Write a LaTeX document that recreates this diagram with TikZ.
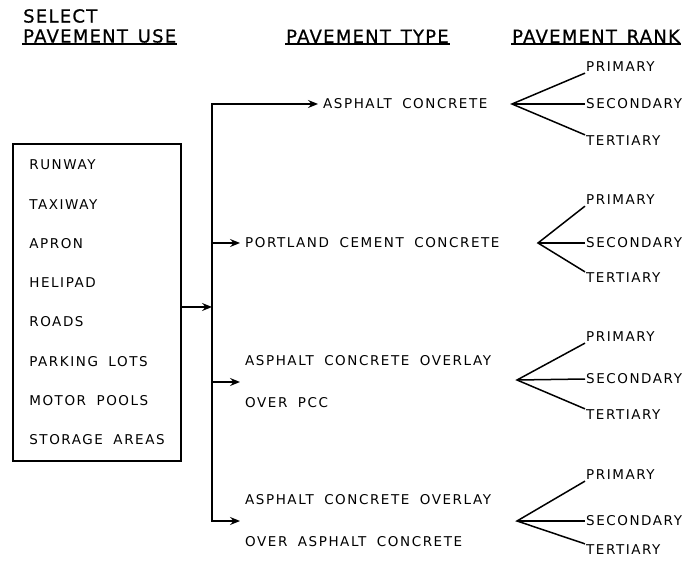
\documentclass[tikz,border=0pt]{standalone}
\usepackage{fontspec}
\setmainfont{DejaVu Sans}
\newfontfamily\headfont[LetterSpace=7, WordSpace=1.4, FakeBold=0.6]{DejaVu Sans}
\newfontfamily\itemfont[LetterSpace=11.5, WordSpace=1.8]{DejaVu Sans}
\usetikzlibrary{arrows.meta,positioning}

\begin{document}
\begin{tikzpicture}[x=1pt, y=-1pt,
  head/.style={anchor=south west, inner sep=1pt, align=left,
    font=\headfont\fontsize{18}{20}\selectfont},
  uline/.style={line width=1.5pt},
  usebox/.style={draw, line width=1.3pt, align=left, minimum width=168pt,
    minimum height=317pt, font=\itemfont\fontsize{13.5}{39.3}\selectfont},
  ptype/.style={anchor=west, inner sep=5pt, align=left,
    font=\itemfont\fontsize{13.5}{16}\selectfont},
  rank/.style={anchor=west, inner sep=1pt, font=\itemfont\fontsize{13.5}{16}\selectfont},
  arr/.style={-{Stealth[length=10pt, width=8pt, inset=3.5pt]}, line width=1.4pt},
  fan/.style={line width=1.5pt}]
\fill[white] (0,0) rectangle (683,561);
\useasboundingbox (0,0) rectangle (683,561);

% column headings
\node[head] (hUse) at (22,44) {SELECT\\PAVEMENT USE};
\node[head] (hType) at (285,44) {PAVEMENT TYPE};
\node[head] (hRank) at (511,44) {PAVEMENT RANK};
\draw[uline] (hUse.south west) -- (hUse.south east);
\draw[uline] (hType.south west) -- (hType.south east);
\draw[uline] (hRank.south west) -- (hRank.south east);

% pavement uses
\node[usebox] (uses) at (97,302.5) {RUNWAY\\TAXIWAY\\APRON\\HELIPAD\\ROADS\\PARKING LOTS\\MOTOR POOLS\\STORAGE AREAS};
\coordinate (jn) at (212,307);
\draw[arr] (uses.east |- jn) -- (jn);

% pavement types
\node[ptype] (ac) at (318,104) {ASPHALT CONCRETE};
\node[ptype] (pcc) at (240,243) {PORTLAND CEMENT CONCRETE};
\node[ptype] (ovPcc) at (240,382) {ASPHALT CONCRETE OVERLAY\\[26pt]OVER PCC};
\node[ptype] (ovAc) at (240,521) {ASPHALT CONCRETE OVERLAY\\[26pt]OVER ASPHALT CONCRETE};
\draw[arr] (jn) |- (ac.west);
\draw[arr] (jn |- pcc.west) -- (pcc.west);
\draw[arr] (jn |- ovPcc.west) -- (ovPcc.west);
\draw[arr] (jn) |- (ovAc.west);

% pavement ranks
\coordinate (f1) at (512,104);
\node[rank] (p1) at (585,67) {PRIMARY};
\node[rank] (s1) at (585,104) {SECONDARY};
\node[rank] (t1) at (585,141) {TERTIARY};
\draw[fan] (p1.south west) -- (f1) -- (t1.north west);
\draw[fan] (f1) -- (s1.west);

\coordinate (f2) at (538,243);
\node[rank] (p2) at (585,200) {PRIMARY};
\node[rank] (s2) at (585,243) {SECONDARY};
\node[rank] (t2) at (585,278) {TERTIARY};
\draw[fan] (p2.south west) -- (f2) -- (t2.north west);
\draw[fan] (f2) -- (s2.west);

\coordinate (f3) at (517,380);
\node[rank] (p3) at (585,337) {PRIMARY};
\node[rank] (s3) at (585,379) {SECONDARY};
\node[rank] (t3) at (585,415) {TERTIARY};
\draw[fan] (p3.south west) -- (f3) -- (t3.north west);
\draw[fan] (f3) -- (s3.west);

\coordinate (f4) at (517,521);
\node[rank] (p4) at (585,475) {PRIMARY};
\node[rank] (s4) at (585,521) {SECONDARY};
\node[rank] (t4) at (585,550) {TERTIARY};
\draw[fan] (p4.south west) -- (f4) -- (t4.north west);
\draw[fan] (f4) -- (s4.west);
\end{tikzpicture}
\end{document}
